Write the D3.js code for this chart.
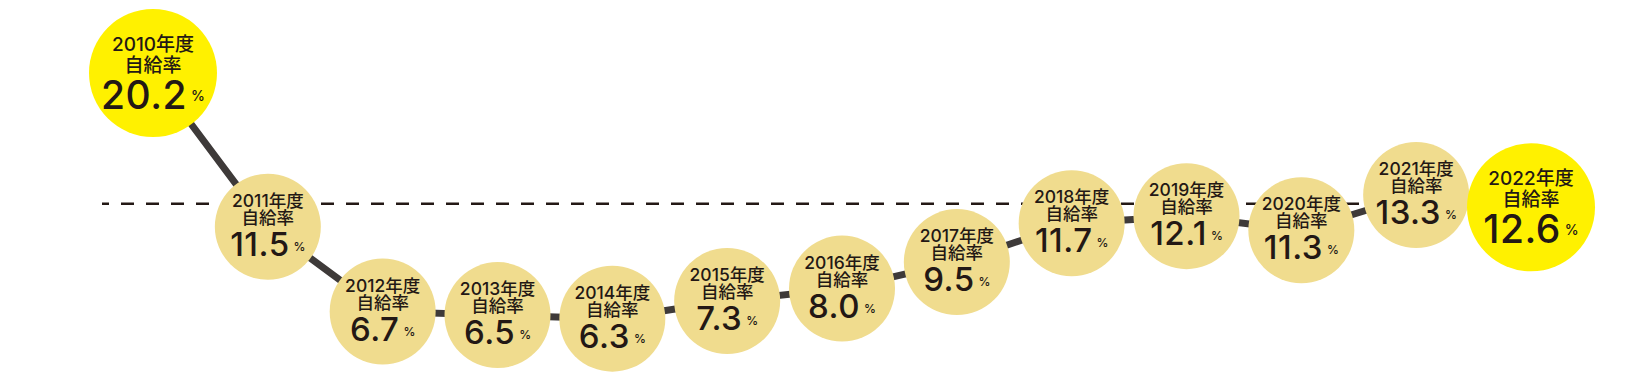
<!DOCTYPE html>
<html>
<head>
<meta charset="utf-8">
<script src="https://cdn.jsdelivr.net/npm/d3@7"></script>
<style>
  body { margin: 0; background: #fff; }
  text { font-family: "Inter", "Noto Sans CJK JP", sans-serif; fill: #231815; }
</style>
</head>
<body>
<div id="chart"></div>
<script>
// data
const years = ['2010', '2011', '2012', '2013', '2014', '2015', '2016', '2017', '2018', '2019', '2020', '2021', '2022']
const rates = [20.2, 11.5, 6.7, 6.5, 6.3, 7.3, 8.0, 9.5, 11.7, 12.1, 11.3, 13.3, 12.6]
const highlighted = ['2010', '2022']
const refRate = 12.8
const yearSuffix = '年度'
const labelText = '自給率'

const width = 1640,
  height = 381

const svg = d3.select('#chart')
  .append('svg')
  .attr('width', width)
  .attr('height', height)

const data = years.map((y, i) => ({ year: y, rate: rates[i], big: highlighted.includes(y) }))

const x = d3.scalePoint()
  .domain(years)
  .range([153, 1531])

const y = d3.scaleLinear()
  .domain([0, 20.2])
  .range([430, 73])

// dashed reference line
svg.append('line')
  .attr('x1', 102)
  .attr('x2', x('2022'))
  .attr('y1', y(refRate))
  .attr('y2', y(refRate))
  .attr('stroke', '#231815')
  .attr('stroke-width', 2.5)
  .attr('stroke-dasharray', '13 12')
  .attr('stroke-dashoffset', 6)

// connecting line
const line = d3.line()
  .x(d => x(d.year))
  .y(d => y(d.rate))

svg.append('path')
  .datum(data)
  .attr('d', line)
  .attr('fill', 'none')
  .attr('stroke', '#3e3a39')
  .attr('stroke-width', 7)

const node = svg.selectAll('g.node')
  .data(data)
  .enter()
  .append('g')
  .attr('class', 'node')
  .attr('transform', d => `translate(${x(d.year)},${y(d.rate)})`)

node.append('circle')
  .attr('r', d => d.big ? 64 : 53)
  .attr('fill', d => d.big ? '#fff100' : '#f0dc8e')

// one text block per circle: year, label, value + %
const label = node.append('text')
  .attr('text-anchor', 'middle')
  .attr('font-weight', 500)

label.append('tspan')
  .attr('x', 0)
  .attr('y', d => d.big ? -22 : -20)
  .attr('font-size', d => d.big ? 19 : 17.5)
  .text(d => d.year + yearSuffix)

label.append('tspan')
  .attr('x', 0)
  .attr('y', d => d.big ? -1 : -3)
  .attr('font-size', d => d.big ? 19 : 17.5)
  .text(labelText)

label.append('tspan')
  .attr('x', 0)
  .attr('y', d => d.big ? 36 : 29)
  .attr('font-size', d => d.big ? 39 : 33)
  .attr('letter-spacing', 0.5)
  .text(d => d.rate.toFixed(1))

label.append('tspan')
  .attr('font-size', d => d.big ? 14 : 12)
  .attr('dx', 4)
  .attr('dy', d => d.big ? -8 : -5)
  .text('%')
</script>
</body>
</html>
